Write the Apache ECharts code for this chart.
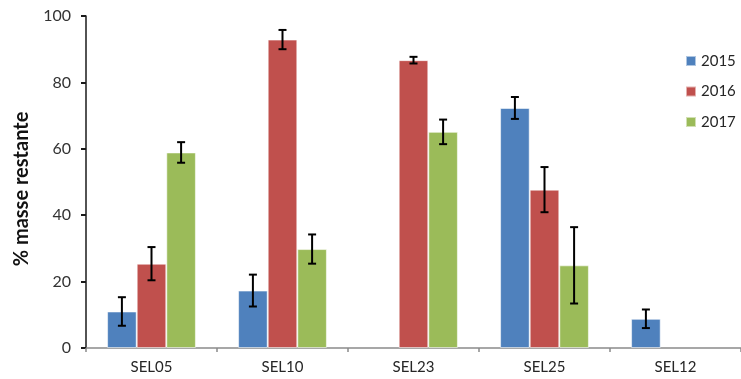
<!DOCTYPE html>
<html>
<head>
<meta charset="utf-8">
<script src="https://cdn.jsdelivr.net/npm/echarts@6/dist/echarts.min.js"></script>
<style>
  html, body { margin: 0; padding: 0; background: #fff; }
  #chart { width: 741px; height: 379px; }
</style>
</head>
<body>
<div id="chart"></div>
<script>
// Sites and yearly remaining mass (%), with error half-widths
const categories = ['SEL05', 'SEL10', 'SEL23', 'SEL25', 'SEL12'];
const years = ['2015', '2016', '2017'];
const v2015 = [11.0, 17.3, null, 72.3, 8.8];
const v2016 = [25.4, 92.9, 86.7, 47.7, null];
const v2017 = [58.9, 29.8, 65.1, 24.9, null];
const e2015 = [4.3, 4.8, null, 3.3, 2.8];
const e2016 = [5.0, 2.9, 1.0, 6.8, null];
const e2017 = [3.1, 4.4, 3.7, 11.5, null];
const yTicks = [0, 20, 40, 60, 80, 100];

const colors = ['#4F81BD', '#C0504D', '#9BBB59'];
const values = [v2015, v2016, v2017];
const errors = [e2015, e2016, e2017];
const BAR_W = 29.6;
const FONT = 'Lato, "Open Sans", sans-serif';

const chart = echarts.init(document.getElementById('chart'), null, { renderer: 'canvas' });

const barSeries = years.map((y, s) => ({
  name: y,
  type: 'bar',
  barWidth: BAR_W,
  barGap: '0%',
  itemStyle: { color: colors[s], borderColor: 'rgba(255,255,255,0.55)', borderWidth: 1 },
  emphasis: { disabled: true },
  data: values[s].map(v => (v == null ? '-' : v))
}));

// Error whiskers drawn on top of each bar, shifted to that bar's slot
const errSeries = years.map((y, s) => ({
  type: 'custom',
  name: y + ' err',
  z: 10,
  silent: true,
  renderItem: function (params, api) {
    const cat = api.value(0);
    const v = api.value(1);
    const e = api.value(2);
    const top = api.coord([cat, v + e]);
    const bot = api.coord([cat, v - e]);
    const x = top[0] + (s - 1) * BAR_W;
    const cap = 4;
    const style = { stroke: '#000', lineWidth: 2 };
    return {
      type: 'group',
      children: [
        { type: 'line', shape: { x1: x, y1: top[1], x2: x, y2: bot[1] }, style },
        { type: 'line', shape: { x1: x - cap, y1: top[1], x2: x + cap, y2: top[1] }, style },
        { type: 'line', shape: { x1: x - cap, y1: bot[1], x2: x + cap, y2: bot[1] }, style }
      ]
    };
  },
  encode: { x: 0, y: 1 },
  data: values[s].map((v, i) => (v == null ? null : [i, v, errors[s][i]])).filter(d => d)
}));

chart.setOption({
  animation: false,
  grid: { left: 86, right: -10, top: 16, bottom: 31, containLabel: false },
  legend: {
    data: years,
    orient: 'vertical',
    left: 680,
    top: 48,
    padding: 5,
    icon: 'rect',
    itemWidth: 10,
    itemHeight: 10,
    itemGap: 14.5,
    textStyle: { fontFamily: FONT, fontSize: 15, color: '#262626', lineHeight: 16 }
  },
  xAxis: {
    type: 'category',
    data: categories,
    axisLine: { lineStyle: { color: '#8a8a8a', width: 1.5 } },
    axisTick: { show: true, length: 4, lineStyle: { color: '#8a8a8a', width: 1.5 } },
    axisLabel: { fontFamily: FONT, fontSize: 15, color: '#262626', margin: 12 }
  },
  yAxis: {
    type: 'value',
    min: yTicks[0],
    max: yTicks[yTicks.length - 1],
    interval: 20,
    splitLine: { show: false },
    axisLine: { show: true, lineStyle: { color: '#1a1a1a', width: 1.5 } },
    axisTick: { show: true, length: 5, lineStyle: { color: '#1a1a1a', width: 2 } },
    axisLabel: { fontFamily: FONT, fontSize: 16, color: '#333', margin: 15 }
  },
  graphic: [{
    type: 'text',
    x: 22,
    y: 189,
    rotation: Math.PI / 2,
    style: {
      text: '% masse restante',
      fontFamily: FONT,
      fontSize: 20,
      fontWeight: 'bold',
      fill: '#111',
      align: 'center',
      verticalAlign: 'middle'
    }
  }],
  series: barSeries.concat(errSeries)
});
</script>
</body>
</html>
